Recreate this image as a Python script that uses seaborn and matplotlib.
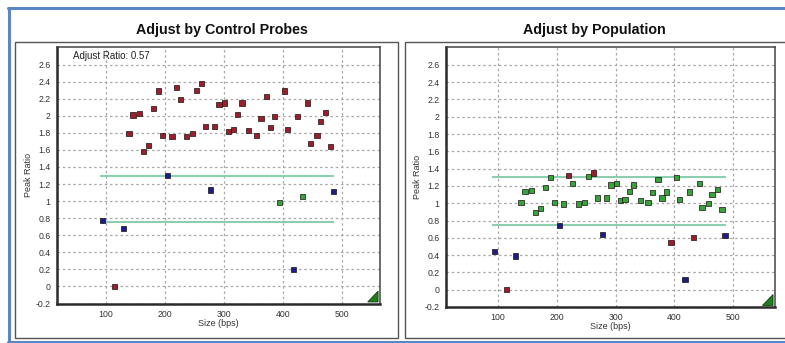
import matplotlib
matplotlib.use("Agg")
import matplotlib.pyplot as plt
from matplotlib.patches import Polygon, Rectangle
from matplotlib.lines import Line2D
from matplotlib.ticker import MultipleLocator
import seaborn as sns
import pandas as pd

# ---- data ----
sizes = [94, 115, 130, 139, 146, 157, 164, 172, 181, 189, 196, 205, 212, 220, 227,
         237, 247, 254, 262, 269, 277, 284, 292, 301, 308, 316, 323, 331, 342, 355,
         363, 372, 379, 386, 394, 403, 408, 418, 425, 433, 442, 447, 458, 464, 473,
         481, 486]
ratio_control = [0.77, 0.00, 0.68, 1.79, 2.01, 2.03, 1.58, 1.65, 2.09, 2.29, 1.77, 1.30,
                 1.76, 2.33, 2.19, 1.76, 1.79, 2.30, 2.38, 1.87, 1.13, 1.87, 2.13, 2.15,
                 1.82, 1.84, 2.02, 2.15, 1.83, 1.77, 1.97, 2.23, 1.86, 1.99, 0.98, 2.29,
                 1.84, 0.20, 1.99, 1.05, 2.15, 1.68, 1.77, 1.93, 2.04, 1.64, 1.11]
ratio_population = [0.44, 0.00, 0.39, 1.01, 1.14, 1.15, 0.89, 0.94, 1.18, 1.30, 1.01, 0.74,
                    0.99, 1.32, 1.23, 0.99, 1.01, 1.31, 1.35, 1.06, 0.64, 1.06, 1.21, 1.23,
                    1.03, 1.04, 1.14, 1.21, 1.03, 1.01, 1.12, 1.27, 1.06, 1.13, 0.55, 1.30,
                    1.04, 0.12, 1.13, 0.60, 1.23, 0.95, 1.00, 1.10, 1.16, 0.93, 0.63]
control_probes = [94, 130, 205, 277, 418, 486]
thresholds = [0.75, 1.3]
threshold_range = [90, 487]
adjust_ratio = 0.57
y_ticks = [-0.2, 0, 0.2, 0.4, 0.6, 0.8, 1, 1.2, 1.4, 1.6, 1.8, 2, 2.2, 2.4, 2.6]
x_ticks = [100, 200, 300, 400, 500]
titles = ["Adjust by Control Probes", "Adjust by Population"]


def status(size, r):
    if size in control_probes:
        return "control"
    if r < thresholds[0] or r > thresholds[1] + 0.01:
        return "out"
    return "in"


df = pd.DataFrame({"size": sizes, "control": ratio_control, "population": ratio_population})
df["control_cat"] = [status(s, r) for s, r in zip(sizes, ratio_control)]
df["population_cat"] = [status(s, r) for s, r in zip(sizes, ratio_population)]

palette = {"out": "#9e1d2b", "in": "#35a53a", "control": "#1b1e8a"}

sns.set_style("white")
plt.rcParams["font.family"] = ["Liberation Sans", "DejaVu Sans"]

W, H = 785, 343
fig = plt.figure(figsize=(W / 100, H / 100), dpi=100)
fig.patch.set_facecolor("white")


def fx(px):
    return px / W


def fy(py):
    return 1 - py / H


# outer blue frame & panel boxes
blue = "#5b86c6"
fig.add_artist(Line2D([fx(8), fx(785)], [fy(7.5), fy(7.5)], color=blue, lw=2.2))
fig.add_artist(Line2D([fx(8.5), fx(8.5)], [fy(7.5), fy(342)], color=blue, lw=2.2))
fig.add_artist(Line2D([fx(8), fx(785)], [fy(341.5), fy(341.5)], color=blue, lw=2.2))
for (x0, x1) in [(15, 398), (405, 790)]:
    fig.add_artist(Rectangle((fx(x0), fy(337.5)), fx(x1) - fx(x0), fy(42) - fy(337.5),
                             fill=False, edgecolor="#555555", lw=1.0))

axes_px = [(57, 380, 46.7, 303.5), (445.7, 775, 46.7, 307)]
xlims = [(17, 565), (11, 571)]
cols = ["control", "population"]
title_x = [222, 594]

for i in range(2):
    l, r, t, b = axes_px[i]
    ax = fig.add_axes([fx(l), fy(b), fx(r) - fx(l), fy(t) - fy(b)])
    ax.set_facecolor("white")
    ax.set_xlim(*xlims[i])
    ax.set_ylim(-0.2, 2.81)
    ax.set_xticks(x_ticks)
    ax.set_yticks(y_ticks)
    ax.set_yticklabels([f"{v:g}" for v in y_ticks])
    ax.xaxis.set_minor_locator(MultipleLocator(10))
    ax.grid(True, which="major", color="#a8a8a8", lw=0.9, ls=(0, (2, 2.2)))
    ax.tick_params(axis="both", which="major", labelsize=6.3, colors="#333333",
                   length=3, width=0.8, pad=1.5, labelcolor="#333333")
    ax.tick_params(axis="x", which="minor", direction="out", length=2, width=0.7,
                   color="#555555")
    for side in ["left", "bottom"]:
        ax.spines[side].set_color("#2a2a2a")
        ax.spines[side].set_linewidth(1.8)
    for side in ["top", "right"]:
        ax.spines[side].set_color("#444444")
        ax.spines[side].set_linewidth(1.1)
    ax.set_axisbelow(True)

    ax.hlines(thresholds, threshold_range[0], threshold_range[1], colors="#8ccfae",
              lw=1.5, zorder=2)
    sns.scatterplot(data=df, x="size", y=cols[i], hue=f"{cols[i]}_cat", palette=palette,
                    marker="s", s=14, edgecolor="#1c1010", linewidth=0.5, legend=False,
                    ax=ax, zorder=3)
    ax.set_xlabel("Size (bps)", fontsize=6.5, color="#333333", labelpad=0)
    ax.set_ylabel("Peak Ratio", fontsize=6.5, color="#333333", labelpad=2)

    # resize-handle triangle in the bottom-right corner
    ax.add_patch(Polygon([[0.994, 0.006], [0.994, 0.048], [0.962, 0.006]],
                         closed=True, transform=ax.transAxes, facecolor="#1f7f1f",
                         edgecolor="#0d3d0d", lw=0.6, zorder=5, clip_on=False))
    fig.text(fx(title_x[i]), fy(30), titles[i], ha="center", va="center",
             fontsize=10.3, fontweight="bold", color="#111111")

    if i == 0:
        ax.text(0.05, 0.985, f"Adjust Ratio: {adjust_ratio:g}", transform=ax.transAxes,
                ha="left", va="top", fontsize=7, color="#222222")

fig.savefig("out.png", dpi=100, facecolor="white")
